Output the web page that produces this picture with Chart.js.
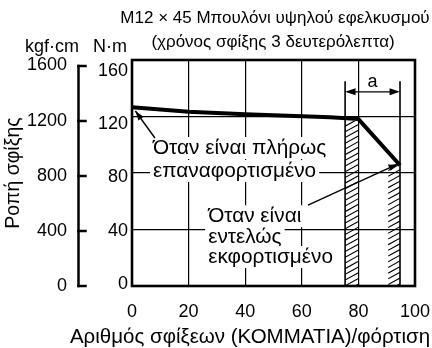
<!DOCTYPE html>
<html>
<head>
<meta charset="utf-8">
<script src="https://cdn.jsdelivr.net/npm/chart.js@4.4.1/dist/chart.umd.min.js"></script>
<style>
  html, body { margin: 0; padding: 0; background: #fff; }
  #wrap { width: 432px; height: 348px; }
</style>
</head>
<body>
<div id="wrap"><canvas id="torqueChart" width="432" height="348"></canvas></div>
<script>
// Tightening torque of an M12x45 high-tension bolt vs. bolts per charge
const LOADS = [0, 10, 20, 30, 40, 50, 60, 70, 80, 94.7];
const TORQUE_NM = [126.5, 125, 123.4, 122.5, 121.6, 120.8, 120.1, 119.4, 118.2, 85.5];
const X_TICKS = [0, 20, 40, 60, 80, 100];
const NM_TICKS = [0, 40, 80, 120, 160];
const KGF_TICKS = [0, 400, 800, 1200, 1600];

const TITLE_LINES = ['M12 × 45 Μπουλόνι υψηλού εφελκυσμού', '(χρόνος σφίξης 3 δευτερόλεπτα)'];
const X_TITLE = 'Αριθμός σφίξεων (ΚΟΜΜΑΤΙΑ)/φόρτιση';
const Y_TITLE = 'Ροπή σφίξης';
const FULL_LABEL = ['Όταν είναι πλήρως', 'επαναφορτισμένο'];
const EMPTY_LABEL = ['Όταν είναι', 'εντελώς', 'εκφορτισμένο'];

// hatched zones on the x axis (bolts per charge) and their top (N·m)
const ZONE_FULL = [75.3, 80, 117];
const ZONE_EMPTY = [90.5, 94.7, 86];

const FONT = "'Liberation Sans', Arial, sans-serif";
Chart.defaults.font.family = FONT;
Chart.defaults.color = '#000';

function arrowHead(ctx, x1, y1, x2, y2, size) {
    const a = Math.atan2(y2 - y1, x2 - x1);
    ctx.beginPath();
    ctx.moveTo(x2, y2);
    ctx.lineTo(x2 - size * Math.cos(a - 0.32), y2 - size * Math.sin(a - 0.32));
    ctx.lineTo(x2 - size * Math.cos(a + 0.32), y2 - size * Math.sin(a + 0.32));
    ctx.closePath();
    ctx.fill();
}

function hatch(ctx, x, y, w, h, step) {
    ctx.save();
    ctx.beginPath();
    ctx.rect(x, y, w, h);
    ctx.clip();
    ctx.beginPath();
    for (let yy = y - w; yy < y + h + w; yy += step) {
        ctx.moveTo(x, yy + w * 0.55);
        ctx.lineTo(x + w, yy);
    }
    ctx.lineWidth = 1.1;
    ctx.stroke();
    ctx.restore();
}

function boxedLines(ctx, lines, x, ys) {
    ctx.font = '20.8px ' + FONT;
    ctx.textBaseline = 'middle';
    ctx.textAlign = 'left';
    lines.forEach((t, i) => {
        const w = ctx.measureText(t).width;
        ctx.fillStyle = '#fff';
        ctx.fillRect(x - 3, ys[i] - 11, w + 6, 22);
        ctx.fillStyle = '#000';
        ctx.fillText(t, x, ys[i]);
    });
}

const decorations = {
    id: 'decorations',
    beforeDatasetsDraw(chart) {
        const { ctx, scales: { x, y } } = chart;
        ctx.save();
        ctx.strokeStyle = '#000';
        ctx.fillStyle = '#000';
        [ZONE_FULL, ZONE_EMPTY].forEach(z => {
            const l = x.getPixelForValue(z[0]);
            const r = x.getPixelForValue(z[1]);
            const t = y.getPixelForValue(z[2]);
            hatch(ctx, l, t, r - l, y.getPixelForValue(0) - t, 5.7);
        });
        // guide lines bounding dimension "a"
        const gTop = y.getPixelForValue(145);
        const gBot = y.getPixelForValue(0);
        ctx.lineWidth = 1.6;
        [ZONE_FULL[0], ZONE_EMPTY[1]].forEach(v => {
            const px = x.getPixelForValue(v);
            ctx.beginPath();
            ctx.moveTo(px, gTop);
            ctx.lineTo(px, gBot);
            ctx.stroke();
        });
        // dimension arrow
        const ay = y.getPixelForValue(137.5);
        const a1 = x.getPixelForValue(ZONE_FULL[0]);
        const a2 = x.getPixelForValue(ZONE_EMPTY[1]);
        ctx.lineWidth = 1.2;
        ctx.beginPath();
        ctx.moveTo(a1 + 4, ay);
        ctx.lineTo(a2 - 4, ay);
        ctx.stroke();
        arrowHead(ctx, a2, ay, a1, ay, 11);
        arrowHead(ctx, a1, ay, a2, ay, 11);
        ctx.font = '18px ' + FONT;
        ctx.textAlign = 'center';
        ctx.textBaseline = 'middle';
        ctx.fillText('a', (a1 + a2) / 2, y.getPixelForValue(144.5));
        ctx.restore();
    },
    afterDatasetsDraw(chart) {
        const { ctx, chartArea: ca, scales: { x, y } } = chart;
        ctx.save();
        boxedLines(ctx, FULL_LABEL, x.getPixelForValue(7.4),
            [y.getPixelForValue(97.7), y.getPixelForValue(81.4)]);
        boxedLines(ctx, EMPTY_LABEL, x.getPixelForValue(26.9),
            [y.getPixelForValue(49.4), y.getPixelForValue(34.4), y.getPixelForValue(20.5)]);

        // leader arrows
        ctx.strokeStyle = '#000';
        ctx.fillStyle = '#000';
        ctx.lineWidth = 1.4;
        const leaders = [[8.1, 104.8, 1.2, 123.9], [62.2, 57.3, 94.0, 86.4]];
        leaders.forEach(([x1, y1, x2, y2]) => {
            const p1 = [x.getPixelForValue(x1), y.getPixelForValue(y1)];
            const p2 = [x.getPixelForValue(x2), y.getPixelForValue(y2)];
            ctx.beginPath();
            ctx.moveTo(p1[0], p1[1]);
            ctx.lineTo(p2[0], p2[1]);
            ctx.stroke();
            arrowHead(ctx, p1[0], p1[1], p2[0], p2[1], 10);
        });

        // plot frame
        ctx.lineWidth = 2.6;
        ctx.strokeRect(ca.left, ca.top, ca.right - ca.left, ca.bottom - ca.top);
        ctx.restore();
    },
    afterDraw(chart) {
        const { ctx, scales: { yKgf } } = chart;
        ctx.save();
        ctx.setTransform(1, 0, 0, 1, 0, 0);
        ctx.globalAlpha = 1;
        ctx.globalCompositeOperation = 'source-over';
        ctx.setLineDash([]);

        // kgf·cm spine with inward tick marks
        const sx = Math.round(yKgf.right) + 0.5;
        const kTop = Math.round(yKgf.getPixelForValue(KGF_TICKS[KGF_TICKS.length - 1]));
        const kBot = Math.round(yKgf.getPixelForValue(KGF_TICKS[0]));
        ctx.strokeStyle = '#000';
        ctx.lineWidth = 2.5;
        ctx.lineCap = 'square';
        ctx.beginPath();
        ctx.moveTo(sx, kTop);
        ctx.lineTo(sx, kBot);
        ctx.stroke();
        ctx.beginPath();
        KGF_TICKS.forEach(v => {
            const py = Math.round(yKgf.getPixelForValue(v));
            ctx.moveTo(sx, py);
            ctx.lineTo(sx + 7, py);
        });
        ctx.stroke();

        ctx.fillStyle = '#000';
        ctx.textAlign = 'center';
        ctx.textBaseline = 'middle';
        ctx.font = '17px ' + FONT;
        ctx.fillText(TITLE_LINES[0], 275, 18);
        ctx.fillText(TITLE_LINES[1], 273, 42);
        ctx.font = '18px ' + FONT;
        ctx.fillText('kgf·cm', 52, 47);
        ctx.fillText('N·m', 110, 47);
        ctx.font = '20.5px ' + FONT;
        ctx.fillText(X_TITLE, 250, 337);

        // rotated torque title
        ctx.font = '19.5px ' + FONT;
        ctx.translate(14, (chart.chartArea.top + chart.chartArea.bottom) / 2);
        ctx.rotate(-Math.PI / 2);
        ctx.fillText(Y_TITLE, 0, 0);
        ctx.restore();
    }
};

const ctx = document.getElementById('torqueChart');
new Chart(ctx, {
    type: 'line',
    data: {
        datasets: [{
            data: LOADS.map((v, i) => ({ x: v, y: TORQUE_NM[i] })),
            borderColor: '#000',
            borderWidth: 4,
            pointRadius: 0,
            tension: 0,
            borderJoinStyle: 'round',
            yAxisID: 'y'
        }]
    },
    options: {
        responsive: false,
        animation: false,
        layout: { padding: { top: 60, right: 17, bottom: 0, left: 0 } },
        plugins: {
            legend: { display: false },
            tooltip: { enabled: false }
        },
        scales: {
            x: {
                type: 'linear',
                min: 0,
                max: 100,
                afterBuildTicks: s => { s.ticks = X_TICKS.map(v => ({ value: v })); },
                grid: { color: '#000', lineWidth: 1.2, drawTicks: false },
                border: { display: false },
                ticks: { padding: 15, font: { size: 18 }, color: '#000', maxRotation: 0 },
                afterFit: s => { s.height = 62; s.paddingLeft = 0; s.paddingRight = 0; }
            },
            y: {
                position: 'left',
                weight: 1,
                min: 0,
                max: 160,
                afterBuildTicks: s => { s.ticks = NM_TICKS.map(v => ({ value: v })); },
                grid: { color: '#000', lineWidth: 1.2, drawTicks: false },
                border: { display: false },
                ticks: { display: false },
                afterFit: s => { s.width = 0; }
            },
            // N·m labels sit a little below their grid lines
            yLab: {
                position: 'left',
                weight: 2,
                min: -1.5,
                max: 168.3,
                afterBuildTicks: s => { s.ticks = NM_TICKS.map(v => ({ value: v })); },
                grid: { display: false, drawTicks: false },
                border: { display: false },
                ticks: { padding: 4, font: { size: 18 }, color: '#000', callback: v => String(v) },
                afterFit: s => { s.width = 54; }
            },
            yKgf: {
                position: 'left',
                weight: 3,
                min: 0,
                max: 1640,
                afterBuildTicks: s => { s.ticks = KGF_TICKS.map(v => ({ value: v })); },
                grid: { display: false, drawTicks: false },
                border: { display: false },
                ticks: { padding: 11, font: { size: 18 }, color: '#000', callback: v => String(v) },
                afterFit: s => { s.width = 78; }
            }
        }
    },
    plugins: [decorations]
});
</script>
</body>
</html>
